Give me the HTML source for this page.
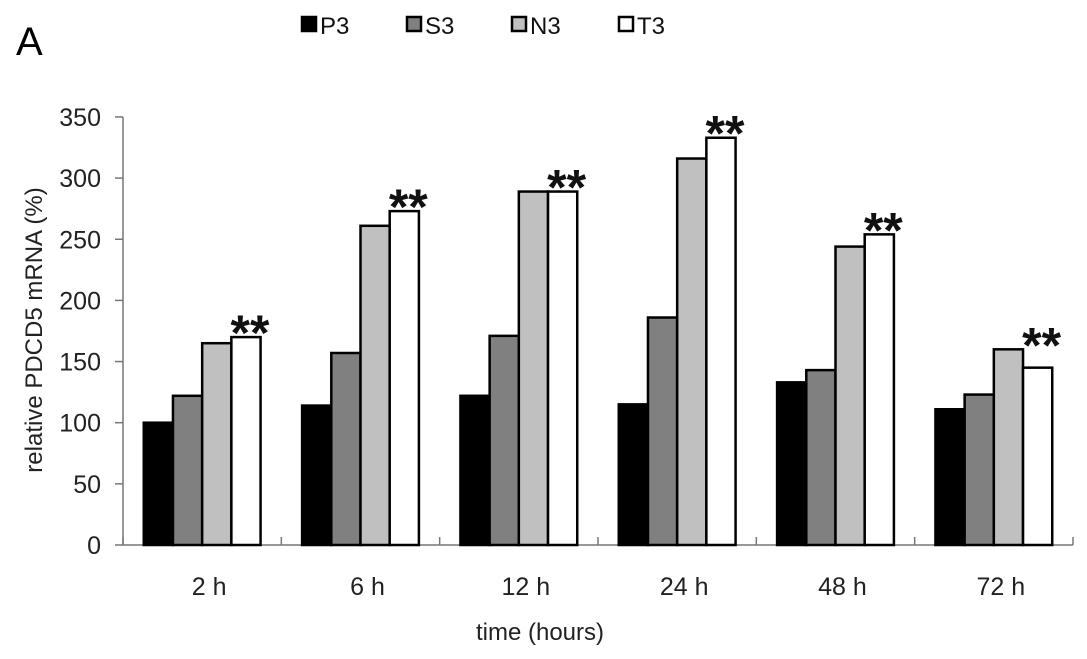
<!DOCTYPE html>
<html><head><meta charset="utf-8"><style>
body{margin:0;background:#fff;}
svg{display:block;font-family:"Liberation Sans",Arial,sans-serif;}
</style></head><body>
<svg id="c" width="1087" height="659">
<text x="16" y="55" font-size="40">A</text>
<g id="legend"></g>
<g id="plot"></g>
<text transform="translate(42,330) rotate(-90)" text-anchor="middle" font-size="24" fill="#222">relative PDCD5 mRNA (%)</text>
<text x="540" y="640" text-anchor="middle" font-size="24" fill="#222">time (hours)</text>
</svg>
<script>
const categories=["2 h","6 h","12 h","24 h","48 h","72 h"];
const seriesNames=["P3","S3","N3","T3"];
const P3=[100,114,122,115,133,111];
const S3=[122,157,171,186,143,123];
const N3=[165,261,289,316,244,160];
const T3=[170,273,289,333,254,145];
const sig=["**","**","**","**","**","**"];
const yTicks=[0,50,100,150,200,250,300,350];
const colors=["#000","#808080","#c0c0c0","#fff"];
const NS="http://www.w3.org/2000/svg";
const X0=123,X1=1073,Y0=545,PPU=1.223;
const gw=(X1-X0)/categories.length, bw=29.2;
const y=v=>Y0-v*PPU;
const gx=i=>X0+i*gw+gw/2-2*bw;
function mk(t,a,p){const e=document.createElementNS(NS,t);for(const k in a)e.setAttribute(k,a[k]);p.appendChild(e);return e;}
const plot=document.getElementById('plot');
const series=[P3,S3,N3,T3];
let ax=mk('line',{x1:X0,y1:Y0,x2:X1,y2:Y0,stroke:'#777','stroke-width':1.5},plot);


let ay=mk('line',{x1:X0,y1:y(350),x2:X0,y2:Y0,stroke:'#777','stroke-width':1.5},plot);


yTicks.forEach(t=>{
 let l=mk('line',{x1:X0-8,y1:y(t),x2:X0,y2:y(t),stroke:'#777','stroke-width':1.5},plot);
 
 
 let tx=mk('text',{x:X0-22,y:y(t)+9,'text-anchor':'end','font-size':25,fill:'#222'},plot);
 tx.textContent=t;
 
 
});
for(let i=0;i<=categories.length;i++){
 let l=mk('line',{x1:X0+i*gw,y1:Y0,x2:X0+i*gw,y2:Y0-8,stroke:'#777','stroke-width':1.5},plot);
 
 
}
categories.forEach((c,i)=>{
 series.forEach((s,j)=>{
  let r=mk('rect',{x:gx(i)+j*bw,y:y(s[i]),width:bw,height:s[i]*PPU,fill:colors[j],stroke:'#000','stroke-width':2.5},plot);
  
  
 });
 let tx=mk('text',{x:X0+i*gw+gw/2+7,y:Y0+50,'text-anchor':'middle','font-size':25,fill:'#222'},plot);
 tx.textContent=c;
 
 
 let st=mk('text',{x:gx(i)+3.5*bw+4,y:y(Math.max(T3[i],N3[i]))+13,'text-anchor':'middle','font-size':50,'font-weight':'bold',fill:'#111'},plot);
 st.textContent=sig[i];
 
 
});
const lg=document.getElementById('legend');
const lx=[302,407,512,619];
seriesNames.forEach((n,j)=>{
 let r=mk('rect',{x:lx[j],y:17,width:14,height:14,fill:colors[j],stroke:'#000','stroke-width':2.5},lg);
 
 
 let t=mk('text',{x:lx[j]+18,y:34,'font-size':24,fill:'#111'},lg);
 t.textContent=n;
 
 
});
</script>
</body></html>
